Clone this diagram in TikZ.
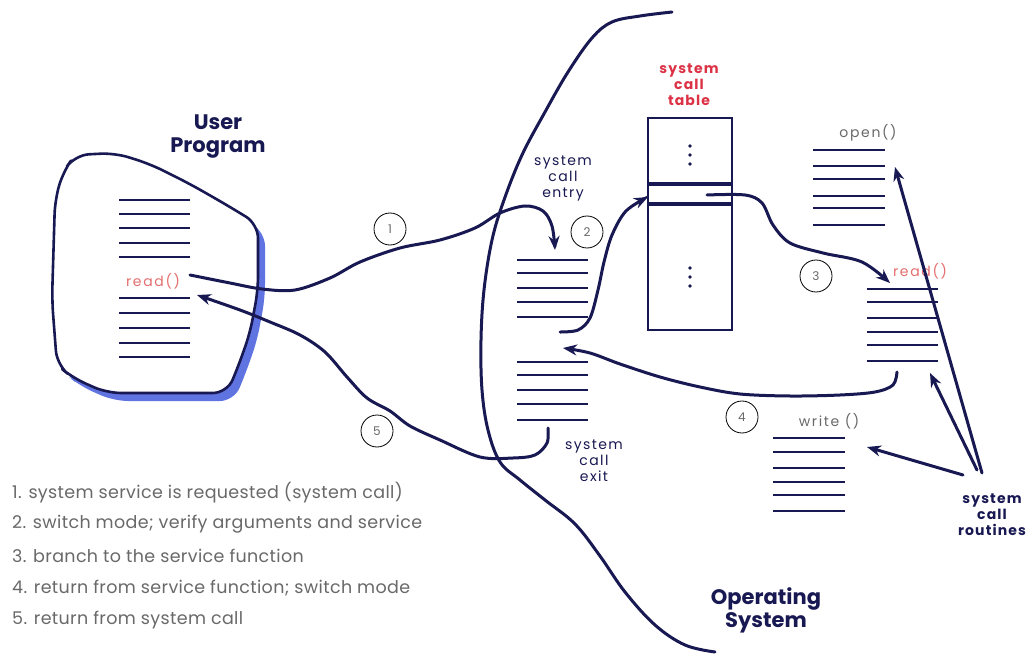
\documentclass[tikz,border=0pt]{standalone}
\usepackage{fontspec}
\setmainfont{Poppins}
\usetikzlibrary{arrows.meta}
\definecolor{navy}{RGB}{24,24,82}
\definecolor{blobblue}{RGB}{95,115,225}
\definecolor{redtxt}{RGB}{220,50,70}
\definecolor{pinktxt}{RGB}{228,110,110}
\definecolor{graytxt}{RGB}{105,105,105}
\begin{document}
\begin{tikzpicture}[x=1pt,y=-1pt,
  codeline/.style={line width=1.7pt, navy},
  flow/.style={line width=3pt, navy, line cap=round, -{Stealth[length=14pt,width=11pt]}},
  boundary/.style={line width=3pt, navy, line cap=round},
  stepnum/.style={circle, draw=black, line width=0.8pt, minimum size=32pt, inner sep=0pt, font=\fontsize{12}{12}\selectfont, text=graytxt},
  bigtitle/.style={font=\bfseries\fontsize{21}{23}\selectfont, text=navy, align=center},
  smalllab/.style={font=\fontsize{14}{16}\selectfont\addfontfeature{LetterSpace=10}, text=navy, align=center},
  boldlab/.style={font=\bfseries\fontsize{14}{16}\selectfont\addfontfeature{LetterSpace=8}, align=center},
  fnlab/.style={font=\fontsize{14}{14}\selectfont\addfontfeature{LetterSpace=12}, inner sep=0pt},
  legend/.style={font=\fontsize{17.5}{17.5}\selectfont\addfontfeature{LetterSpace=2}, text=graytxt, anchor=west, inner sep=0pt},
]
\useasboundingbox[fill=white] (0,0) rectangle (1031,655);

% ---------- user program blob ----------
\def\blobpath{[rounded corners=14pt] (75,155) -- (115,153) -- (150,164) -- (190,184) -- (225,204) -- (258,224) -- (258,290) -- (250,333) -- (238,367) -- (227,393) -- (107,393) -- (73,378) -- (57,365) -- (52,300) -- (55,200) -- (63,172) -- cycle}
\fill[blobblue, shift={(7,8)}] \blobpath;
\fill[white] \blobpath;
\draw[boundary, line width=2.6pt, line join=round] \blobpath;

\node[bigtitle] (usertitle) at (218,137) {User\\Program};

% code lines of user program
\foreach \y in {200,214,228,243,257,298,313,328,343,357}
  \draw[codeline] (119,\y) -- (190,\y);
\node[fnlab, text=pinktxt] (readuser) at (153,281) {read()};

% ---------- operating system boundary ----------
\draw[boundary] plot[smooth, tension=0.6] coordinates {(672,12) (640,16) (612,22) (592,38) (568,72) (545,112) (522,155) (504,200) (492,240) (484,290) (481,340) (482,390) (488,430) (500,462) (520,480) (545,500) (575,524) (600,556) (625,592) (655,625) (685,645) (715,652)};
\node[bigtitle] (ostitle) at (766,610) {Operating\\System};

% ---------- entry / exit code ----------
\node[smalllab] (entrylab) at (563,179) {system\\call\\entry};
\foreach \y in {260,273,288,302,317}
  \draw[codeline] (517,\y) -- (588,\y);
\foreach \y in {362,375,390,404,420}
  \draw[codeline] (517,\y) -- (588,\y);
\node[smalllab] (exitlab) at (594,461) {system\\call\\exit};

% ---------- system call table ----------
\node[boldlab, text=redtxt] (tablelab) at (689,85) {system\\call\\table};
\node[draw=navy, line width=1.6pt, minimum width=84pt, minimum height=212pt, inner sep=0pt] (table) at (690,224) {};
\draw[navy, line width=3.2pt] (table.west |- 0,184) -- (table.east |- 0,184);
\draw[navy, line width=3.2pt] (table.west |- 0,204) -- (table.east |- 0,204);
\foreach \y in {146,155,164,268,277,286}
  \fill[navy] (690,\y) circle (1.8);
\coordinate (tabentry) at (707,195);

% ---------- routines ----------
\node[fnlab, text=graytxt] (openlab) at (868,133) {open()};
\foreach \y in {150,166,179,196,208,225}
  \draw[codeline] (813,\y) -- (885,\y);

\node[fnlab, text=pinktxt] (reados) at (920,271) {read()};
\foreach \y in {289,302,318,332,345,361}
  \draw[codeline] (867,\y) -- (938,\y);

\node[fnlab, text=graytxt] (writelab) at (829,421) {write ()};
\foreach \y in {438,452,468,482,495,511}
  \draw[codeline] (773,\y) -- (845,\y);

\node[boldlab, text=navy] (routlab) at (992,515) {system\\call\\routines};

% ---------- step circles ----------
\node[stepnum] (s1) at (390,229) {1};
\node[stepnum] (s2) at (587,232) {2};
\node[stepnum] (s3) at (816,276) {3};
\node[stepnum] (s4) at (742,417) {4};
\node[stepnum] (s5) at (377,431) {5};

% ---------- flow arrows ----------
\coordinate (a1s) at (190,275);
\coordinate (a1e) at (555,250);
\draw[flow] plot[smooth, tension=0.55] coordinates {(a1s) (230,283) (262,289) (295,290) (330,278) (360,262) (400,248) (440,240) (475,228) (500,213) (525,206) (543,211) (552,226) (a1e)};

\coordinate (a2s) at (560,332);
\coordinate (a2e) at (648,197);
\draw[flow] plot[smooth, tension=0.55] coordinates {(a2s) (578,330) (590,318) (598,290) (604,262) (612,235) (626,211) (a2e)};

\coordinate (a3e) at (890,283);
\draw[flow] plot[smooth, tension=0.55] coordinates {(tabentry) (745,195) (762,203) (773,225) (790,243) (823,253) (862,262) (a3e)};

\coordinate (a4s) at (897,372);
\coordinate (a4e) at (563,348);
\draw[flow] plot[smooth, tension=0.55] coordinates {(a4s) (893,385) (875,392) (840,395) (790,396) (740,394) (700,387) (660,377) (620,364) (590,353) (a4e)};

\coordinate (a5s) at (548,428);
\coordinate (a5e) at (197,295);
\draw[flow] plot[smooth, tension=0.55] coordinates {(a5s) (547,443) (535,455) (513,458) (480,457) (440,440) (410,426) (390,411) (367,398) (347,377) (325,352) (300,335) (270,322) (240,310) (a5e)};

% routine pointers
\coordinate (r1) at (982,473);
\coordinate (r2) at (977,470);
\coordinate (r3) at (963,475);
\draw[flow] (r1) -- (895,167);
\draw[flow] (r2) -- (930,373);
\draw[flow] (r3) -- (867,447);

% ---------- legend ----------
\node[legend] (l1) at (12,493) {1. system service is requested (system call)};
\node[legend] (l2) at (12,524) {2. switch mode; verify arguments and service};
\node[legend] (l3) at (12,556) {3. branch to the service function};
\node[legend] (l4) at (12,588) {4. return from service function; switch mode};
\node[legend] (l5) at (12,620) {5. return from system call};
\end{tikzpicture}
\end{document}
